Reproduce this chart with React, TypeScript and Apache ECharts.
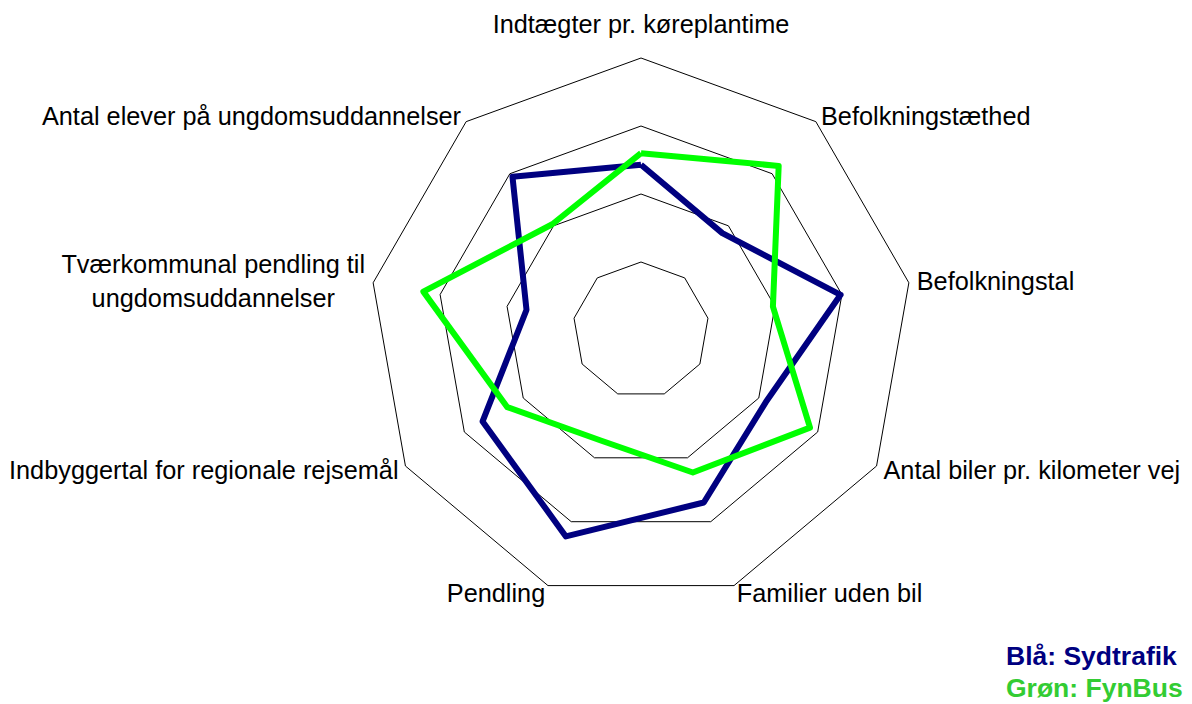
import React, { useEffect, useRef } from "react";
import * as echarts from "echarts";

// Indicators in ECharts order (counter-clockwise from the top)
const indicators: string[] = [
  "Indtægter pr. køreplantime",
  "Antal elever på ungdomsuddannelser",
  "Tværkommunal pendling til ungdomsuddannelser",
  "Indbyggertal for regionale rejsemål",
  "Pendling",
  "Familier uden bil",
  "Antal biler pr. kilometer vej",
  "Befolkningstal",
  "Befolkningstæthed",
];
const maxValue = 4;

const sydtrafik: number[] = [2.43, 2.94, 1.71, 2.69, 3.23, 2.7, 2.12, 2.98, 1.86];
const fynbus: number[] = [2.6, 2.03, 3.25, 2.27, 1.73, 2.23, 2.87, 1.97, 3.15];

const legendLines: string[] = ["Blå: Sydtrafik", "Grøn: FynBus"];

const FONT = "'Liberation Sans', Arial, sans-serif";
const FS = 25.3;

export default function App() {
  const ref = useRef<HTMLDivElement>(null);
  useEffect(() => {
    document.body.style.margin = "0";
    if (!ref.current) return;
    const chart = echarts.init(ref.current, null, { renderer: "svg" });
    chart.setOption({
      animation: false,
      backgroundColor: "#ffffff",
      radar: {
        center: [641, 330],
        radius: 272,
        startAngle: 90,
        splitNumber: 4,
        shape: "polygon",
        nameGap: 8,
        indicator: indicators.map((name) => ({ name, max: maxValue, min: 0 })),
        axisLine: { show: false },
        axisTick: { show: false },
        axisLabel: { show: false },
        splitArea: { show: false },
        splitLine: { lineStyle: { color: "#000000", width: 1 } },
        axisName: {
          color: "#000000",
          fontFamily: FONT,
          fontSize: FS,
          formatter: (name: string) => {
            if (name === indicators[0]) return "{t|" + name + "}";
            if (name === indicators[2])
              return "{c|Tværkommunal pendling til}\n{c|ungdomsuddannelser}";
            return name;
          },
          rich: {
            t: {
              fontFamily: FONT,
              fontSize: FS,
              color: "#000000",
              padding: [0, 0, 14, 0],
            },
            c: {
              fontFamily: FONT,
              fontSize: FS,
              color: "#000000",
              width: 304,
              align: "center",
              lineHeight: 34,
            },
          },
        },
      },
      series: [
        {
          type: "radar",
          symbol: "none",
          data: [
            {
              name: "Sydtrafik",
              value: sydtrafik,
              lineStyle: { color: "#000080", width: 6 },
              itemStyle: { color: "#000080" },
            },
            {
              name: "FynBus",
              value: fynbus,
              lineStyle: { color: "#00ff00", width: 6 },
              itemStyle: { color: "#00ff00" },
            },
          ],
        },
      ],
      graphic: [
        {
          type: "text",
          left: 1006,
          top: 642,
          style: {
            text: legendLines[0],
            fill: "#000080",
            font: "bold 26.5px " + FONT,
          },
        },
        {
          type: "text",
          left: 1006,
          top: 674,
          style: {
            text: legendLines[1],
            fill: "#33cc33",
            font: "bold 26.5px " + FONT,
          },
        },
      ],
    });
    return () => chart.dispose();
  }, []);
  return <div ref={ref} style={{ width: 1192, height: 704 }} />;
}
